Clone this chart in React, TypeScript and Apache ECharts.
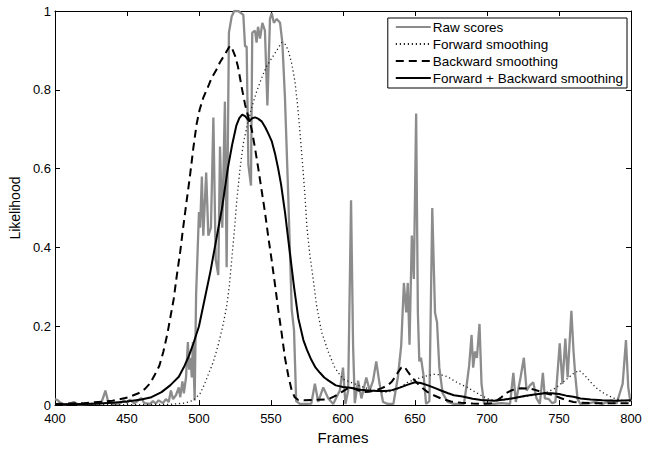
import React, { useEffect, useRef } from "react";
import * as echarts from "echarts";

const xTicks = [400, 450, 500, 550, 600, 650, 700, 750, 800];
const yTicks = [0, 0.2, 0.4, 0.6, 0.8, 1];

const seriesNames = [
  "Raw scores",
  "Forward smoothing",
  "Backward smoothing",
  "Forward + Backward smoothing",
];

const rawFrames = [
  400, 402, 404, 406, 410, 413, 416, 425, 432, 434, 435, 437, 440, 445, 448, 450, 452, 455, 460, 462,
  466, 468, 470, 472, 475, 477, 479, 480.5, 482, 484, 486, 487, 488.5, 489.5, 491, 492.3, 493.2, 494.2, 495, 495.8,
  497, 498, 500, 500.8, 502, 503, 505, 506.5, 508.3, 510, 511.6, 513.4, 514.6, 516.2, 518, 519.2, 520.8, 522.7, 524.5, 527.3,
  530.8, 532, 533.1, 534.3, 536.1, 537, 538.9, 540, 541, 542.4, 544, 545.8, 547.5, 549.3, 550.5, 552, 554, 556.3, 557.9, 559.7,
  562, 564.4, 566, 567.5, 570, 575, 578, 580.5, 582.8, 586.3, 589.8, 593.2, 597.8, 600, 601.7, 603.6, 605.6, 607, 608.2, 610.5,
  612.8, 616.2, 618.5, 620.9, 623.1, 625.4, 627.8, 631, 635, 638.1, 640.4, 642.3, 643.9, 645, 646.2, 647.8, 649.2, 650.8, 652, 653,
  654.2, 656.1, 657.7, 660, 662, 663.9, 665.3, 666.9, 669.2, 672.7, 677, 684, 686, 687.6, 689.3, 690.4, 691.7, 693, 694.8, 696.2,
  698, 705, 710, 716, 718.3, 720, 723.3, 725.6, 727.5, 729.8, 732.1, 734.4, 736.7, 738.8, 740.2, 743, 745.2, 747.5, 750.5, 752.4,
  754.4, 756, 758.6, 760.1, 761.3, 762.9, 764.8, 770, 775, 780, 786.6, 790, 794.2, 796.5, 798.1, 799.3, 800,
];
const rawValues = [
  0.015, 0.012, 0.005, 0.002, 0.003, 0.008, 0.002, 0.003, 0.004, 0.025, 0.037, 0.008, 0.003, 0.004, 0.012, 0.006, 0.014, 0.004, 0.018, 0.005,
  0.003, 0.01, 0.004, 0.012, 0.005, 0.015, 0.008, 0.037, 0.015, 0.025, 0.045, 0.02, 0.06, 0.03, 0.07, 0.16, 0.09, 0.12, 0.07, 0.16,
  0.012, 0.28, 0.49, 0.45, 0.58, 0.43, 0.59, 0.43, 0.45, 0.73, 0.37, 0.33, 0.656, 0.45, 0.77, 0.35, 0.945, 0.986, 1.0, 1.0,
  0.99, 0.91, 0.91, 0.61, 0.557, 0.945, 0.95, 0.92, 0.96, 0.93, 0.97, 0.95, 0.76, 0.98, 0.995, 0.97, 0.98, 0.97, 0.92, 0.78,
  0.53, 0.243, 0.19, 0.01, 0.003, 0.003, 0.004, 0.054, 0.008, 0.045, 0.017, 0.003, 0.037, 0.095, 0.003, 0.037, 0.52, 0.153, 0.005, 0.062,
  0.017, 0.07, 0.037, 0.062, 0.111, 0.054, 0.008, 0.003, 0.003, 0.07, 0.15, 0.31, 0.235, 0.31, 0.153, 0.43, 0.32, 0.74, 0.235, 0.111,
  0.12, 0.07, 0.003, 0.01, 0.5, 0.235, 0.21, 0.095, 0.03, 0.008, 0.003, 0.003, 0.054, 0.1, 0.178, 0.095, 0.136, 0.12, 0.206, 0.054,
  0.003, 0.003, 0.005, 0.003, 0.082, 0.008, 0.07, 0.12, 0.037, 0.05, 0.058, 0.017, 0.003, 0.082, 0.017, 0.015, 0.005, 0.008, 0.157, 0.054,
  0.169, 0.07, 0.239, 0.136, 0.075, 0.015, 0.003, 0.004, 0.008, 0.003, 0.012, 0.004, 0.054, 0.165, 0.045, 0.015, 0.01,
];

const fwdFrames = [
  400, 450, 480, 490, 496, 500.7, 503.5, 506.5, 510, 513.4, 516.5, 519.2, 521, 522.7, 524.5, 526.2, 528.5, 530.8, 533.5, 536.6,
  540, 543.5, 547, 550.5, 554, 557.4, 560, 562, 564.5, 566.7, 568.5, 570, 572, 573.6, 575, 577, 578.2, 580, 581.7, 585.1,
  589.7, 594.3, 600, 604, 608, 612, 617.4, 622, 626.6, 631, 635.8, 640, 645, 650, 654.2, 659, 663.4, 668, 672.7, 677,
  682, 686.5, 691, 695.7, 700, 704.9, 710, 714.1, 719, 723.3, 728, 732.5, 737, 741.7, 746, 750, 755, 760, 764, 768,
  772, 777, 782, 788, 794, 800,
];
const fwdValues = [
  0.001, 0.001, 0.002, 0.005, 0.012, 0.029, 0.05, 0.078, 0.11, 0.153, 0.2, 0.25, 0.3, 0.367, 0.44, 0.516, 0.6, 0.664, 0.71, 0.755,
  0.795, 0.83, 0.86, 0.88, 0.9, 0.92, 0.915, 0.9, 0.865, 0.82, 0.76, 0.697, 0.61, 0.53, 0.45, 0.38, 0.35, 0.3, 0.252, 0.186,
  0.136, 0.095, 0.066, 0.06, 0.054, 0.048, 0.042, 0.037, 0.033, 0.033, 0.037, 0.046, 0.058, 0.065, 0.07, 0.075, 0.078, 0.077, 0.072, 0.062,
  0.052, 0.045, 0.035, 0.025, 0.017, 0.012, 0.012, 0.014, 0.017, 0.02, 0.023, 0.025, 0.029, 0.033, 0.04, 0.05, 0.065, 0.08, 0.088, 0.075,
  0.058, 0.04, 0.028, 0.018, 0.012, 0.01,
];

const bwdFrames = [
  400, 420, 430, 440, 451, 458, 462.5, 466, 469.5, 472.5, 475.3, 478, 480, 482.5, 484.5, 487, 489, 491.5, 493.7, 496,
  498.4, 500.5, 503, 506, 508.8, 512, 514.6, 518, 521.5, 523, 525, 527, 528.5, 530, 532, 534, 536.6, 539, 541.2, 543.5,
  545.8, 548, 550.5, 553, 555, 557.5, 559.7, 562, 564.4, 566.5, 569, 573, 580, 589.7, 594, 599, 603, 606, 609, 613,
  618, 622, 627, 631, 634, 636, 638.5, 640.5, 642.5, 645, 648, 652, 655, 658.8, 663, 668, 675, 682, 690, 696,
  703, 707, 710, 713, 716.7, 720, 724, 730, 734, 738, 742, 746.6, 751, 755.8, 760, 765, 775, 790, 800,
];
const bwdValues = [
  0.003, 0.005, 0.008, 0.011, 0.02, 0.03, 0.041, 0.055, 0.078, 0.1, 0.136, 0.18, 0.22, 0.27, 0.326, 0.39, 0.45, 0.52, 0.58, 0.65,
  0.714, 0.75, 0.78, 0.805, 0.83, 0.85, 0.87, 0.89, 0.912, 0.905, 0.887, 0.86, 0.83, 0.8, 0.763, 0.735, 0.7, 0.65, 0.6, 0.545,
  0.49, 0.43, 0.367, 0.3, 0.243, 0.18, 0.12, 0.075, 0.037, 0.02, 0.013, 0.012, 0.013, 0.015, 0.022, 0.033, 0.042, 0.045, 0.04, 0.033,
  0.034, 0.037, 0.043, 0.05, 0.06, 0.07, 0.085, 0.095, 0.098, 0.085, 0.07, 0.054, 0.044, 0.033, 0.025, 0.017, 0.009, 0.006, 0.004, 0.003,
  0.005, 0.012, 0.02, 0.03, 0.037, 0.041, 0.043, 0.042, 0.038, 0.033, 0.029, 0.025, 0.018, 0.012, 0.008, 0.006, 0.005, 0.005, 0.005,
];

const fbFrames = [
  400, 410, 420, 430, 440, 450, 460, 467, 474, 480, 486, 490, 493, 496, 500, 504, 508, 512, 516, 520,
  523, 526, 528, 530, 532, 535, 537, 539, 541, 543.5, 546, 548, 550.5, 553, 555, 557, 559.7, 562, 564, 566,
  569, 572.5, 575, 578, 581, 584, 587, 590, 595, 600, 605, 612, 618, 624, 630, 634, 640, 645, 650, 654,
  659, 664, 668, 673, 677, 683, 690, 696, 705, 712, 719, 726, 733, 740, 745, 750, 755, 760, 765, 772,
  780, 790, 800,
];
const fbValues = [
  0.002, 0.002, 0.003, 0.004, 0.006, 0.009, 0.014, 0.02, 0.033, 0.05, 0.072, 0.1, 0.125, 0.155, 0.2, 0.27, 0.34, 0.42, 0.5, 0.6,
  0.66, 0.71, 0.728, 0.737, 0.733, 0.72, 0.728, 0.73, 0.727, 0.72, 0.705, 0.69, 0.67, 0.635, 0.6, 0.56, 0.49, 0.42, 0.36, 0.3,
  0.22, 0.165, 0.14, 0.115, 0.095, 0.082, 0.07, 0.062, 0.05, 0.046, 0.044, 0.039, 0.037, 0.036, 0.036, 0.038, 0.045, 0.052, 0.058, 0.056,
  0.05, 0.043, 0.037, 0.03, 0.025, 0.022, 0.016, 0.013, 0.011, 0.014, 0.018, 0.023, 0.027, 0.03, 0.03, 0.028, 0.024, 0.021, 0.017, 0.014,
  0.012, 0.011, 0.012,
];

const zip = (xs: number[], ys: number[]) => xs.map((x, i) => [x, ys[i]]);

const FONT = "'Liberation Sans', Arial, Helvetica, sans-serif";

export default function App() {
  const ref = useRef<HTMLDivElement>(null);
  useEffect(() => {
    if (!ref.current) return;
    const chart = echarts.init(ref.current, null, { renderer: "svg" });
    const axisCommon = {
      axisLine: { show: true, onZero: false, lineStyle: { color: "#000", width: 1 } },
      axisTick: { show: true, inside: true, length: 5, lineStyle: { color: "#000", width: 1 } },
      splitLine: { show: false },
    };
    chart.setOption({
      animation: false,
      backgroundColor: "#fff",
      textStyle: { fontFamily: FONT },
      grid: { left: 52, right: 18, top: 11, bottom: 35, containLabel: false },
      legend: {
        orient: "vertical",
        right: 22,
        top: 18,
        data: seriesNames,
        backgroundColor: "#fff",
        borderColor: "#000",
        borderWidth: 1,
        padding: [2, 4, 3, 7],
        itemGap: 3,
        itemWidth: 35,
        itemHeight: 14,
        itemStyle: { opacity: 0 },
        textStyle: { fontFamily: FONT, fontSize: 13.5, color: "#000", padding: [0, 0, 0, -3] },
      },
      xAxis: [
        {
          type: "value",
          min: 400,
          max: 800,
          interval: 50,
          position: "bottom",
          name: "Frames",
          nameLocation: "middle",
          nameGap: 17,
          nameTextStyle: { fontFamily: FONT, fontSize: 15, color: "#000" },
          axisLabel: { fontFamily: FONT, fontSize: 13, lineHeight: 13, color: "#000", margin: 7 },
          ...axisCommon,
        },
        {
          type: "value",
          min: 400,
          max: 800,
          interval: 50,
          position: "top",
          axisLabel: { show: false },
          ...axisCommon,
        },
      ],
      yAxis: [
        {
          type: "value",
          min: 0,
          max: 1,
          interval: 0.2,
          position: "left",
          name: "Likelihood",
          nameLocation: "middle",
          nameGap: 28,
          nameRotate: 90,
          nameTextStyle: { fontFamily: FONT, fontSize: 14, color: "#000" },
          axisLabel: { fontFamily: FONT, fontSize: 13, lineHeight: 13, color: "#000", margin: 4 },
          ...axisCommon,
        },
        {
          type: "value",
          min: 0,
          max: 1,
          interval: 0.2,
          position: "right",
          axisLabel: { show: false },
          ...axisCommon,
        },
      ],
      series: [
        {
          name: seriesNames[0],
          type: "line",
          data: zip(rawFrames, rawValues),
          symbol: "none",
          lineStyle: { color: "#8c8c8c", width: 2.3 },
          itemStyle: { color: "#8c8c8c" },
          z: 2,
        },
        {
          name: seriesNames[1],
          type: "line",
          data: zip(fwdFrames, fwdValues),
          symbol: "none",
          lineStyle: { color: "#222", width: 1.3, type: [1.2, 2.8] },
          itemStyle: { color: "#222" },
          z: 3,
        },
        {
          name: seriesNames[2],
          type: "line",
          data: zip(bwdFrames, bwdValues),
          symbol: "none",
          lineStyle: { color: "#000", width: 2, type: [8, 5] },
          itemStyle: { color: "#000" },
          z: 4,
        },
        {
          name: seriesNames[3],
          type: "line",
          data: zip(fbFrames, fbValues),
          symbol: "none",
          lineStyle: { color: "#000", width: 2 },
          itemStyle: { color: "#000" },
          z: 5,
        },
      ],
    });
    return () => chart.dispose();
  }, []);
  return (
    <div
      ref={ref}
      style={{ position: "absolute", left: 0, top: 0, width: 649, height: 450 }}
    />
  );
}
